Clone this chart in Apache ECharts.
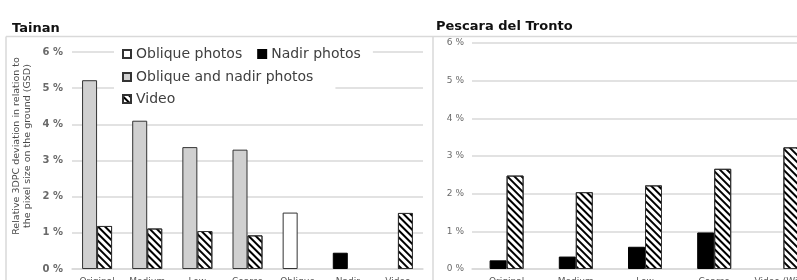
<!DOCTYPE html>
<html>
<head>
<meta charset="utf-8">
<script src="https://cdn.jsdelivr.net/npm/echarts@6/dist/echarts.min.js"></script>
<style>
html,body{margin:0;padding:0;background:#fff;}
#chart{width:797px;height:280px;}
</style>
</head>
<body>
<div id="chart"></div>
<script>
// ---- data ----
var tainanCats = ['Original', 'Medium', 'Low', 'Coarse', 'Oblique', 'Nadir', 'Video'];
var tainanOblique = [null, null, null, null, 1.56, null, null];
var tainanNadir = [null, null, null, null, null, 0.45, null];
var tainanObliqueNadir = [5.22, 4.10, 3.37, 3.30, null, null, null];
var tainanVideo = [1.19, 1.12, 1.05, 0.93, null, null, 1.55];

var pescaraCats = ['Original', 'Medium', 'Low', 'Coarse', 'Video (Wide)'];
var pescaraNadir = [0.23, 0.33, 0.59, 0.97, null];
var pescaraVideo = [2.48, 2.04, 2.22, 2.66, 3.23];

var yTicks = [0, 1, 2, 3, 4, 5, 6];
var seriesNames = ['Oblique photos', 'Nadir photos', 'Oblique and nadir photos', 'Video'];
var yAxisTitle = 'Relative 3DPC deviation in relation to\nthe pixel size on the ground (GSD)';

// ---- styles ----
var FONT = 'DejaVu Sans';
var GRID = '#d9d9d9';
var stripe = {
  symbol: 'rect', symbolSize: 1,
  dashArrayX: [1, 0], dashArrayY: [2, 3],
  rotation: Math.PI / 4, color: '#000'
};
var border = '#333';

function yAxisCfg(grid, leftStyle) {
  return {
    gridIndex: grid, type: 'value', min: yTicks[0], max: yTicks[yTicks.length - 1], interval: 1,
    axisLine: {show: false}, axisTick: {show: false},
    splitLine: {lineStyle: {color: GRID, width: 1.5}},
    axisLabel: leftStyle
  };
}
function xAxisCfg(grid, cats, margin) {
  return {
    gridIndex: grid, type: 'category', data: cats,
    axisLine: {lineStyle: {color: GRID, width: 1.5}},
    axisTick: {show: false},
    axisLabel: {margin: margin, fontFamily: FONT, fontSize: 9, color: '#595959', interval: 0}
  };
}
var legendText = {fontFamily: FONT, fontSize: 14, color: '#404040'};

var option = {
  animation: false,
  backgroundColor: '#fff',
  title: [
    {text: 'Tainan', left: 12, top: 22, padding: 0,
     textStyle: {fontFamily: FONT, fontSize: 13, fontWeight: 'bold', color: '#111'}},
    {text: 'Pescara del Tronto', left: 436, top: 20, padding: 0,
     textStyle: {fontFamily: FONT, fontSize: 13, fontWeight: 'bold', color: '#111'}}
  ],
  legend: [
    {data: [seriesNames[0], seriesNames[1]], left: 114, top: 45, itemGap: 15, icon: 'rect',
     itemWidth: 8, itemHeight: 8, padding: [2, 12, 2, 8], backgroundColor: '#fff',
     selectedMode: false, textStyle: legendText},
    {data: [seriesNames[2]], left: 114, top: 68, itemWidth: 8, itemHeight: 8, icon: 'rect',
     padding: [2, 22, 6, 8], backgroundColor: '#fff', selectedMode: false, textStyle: legendText},
    {data: [seriesNames[3]], left: 114, top: 90, itemWidth: 8, itemHeight: 8, icon: 'rect',
     padding: [2, 10, 2, 8], backgroundColor: '#fff', selectedMode: false, textStyle: legendText}
  ],
  grid: [
    {left: 72, right: 374, top: 52, bottom: 11, outerBoundsMode: 'none', containLabel: false},
    {left: 472, right: -21, top: 43, bottom: 11, outerBoundsMode: 'none', containLabel: false}
  ],
  xAxis: [xAxisCfg(0, tainanCats, 8), xAxisCfg(1, pescaraCats, 8)],
  yAxis: [
    yAxisCfg(0, {formatter: '{value} %', margin: 9, fontFamily: FONT, fontSize: 10, fontWeight: 'bold', color: '#6a6a6a'}),
    yAxisCfg(1, {formatter: '{value} %', margin: 8, fontFamily: FONT, fontSize: 9, color: '#6a6a6a'})
  ],
  graphic: [
    {type: 'line', shape: {x1: 6, y1: 36.5, x2: 797, y2: 36.5}, style: {stroke: GRID, lineWidth: 1.5}},
    {type: 'line', shape: {x1: 6, y1: 36.5, x2: 6, y2: 280}, style: {stroke: GRID, lineWidth: 1.5}},
    {type: 'line', shape: {x1: 433, y1: 36.5, x2: 433, y2: 280}, style: {stroke: GRID, lineWidth: 1.5}},
    {type: 'text', x: 22, y: 146, rotation: Math.PI / 2,
     style: {text: yAxisTitle, fontFamily: FONT, fontSize: 9.5, lineHeight: 11, fill: '#4a4a4a',
             textAlign: 'center', textVerticalAlign: 'middle'}}
  ],
  series: [
    {name: seriesNames[0], type: 'bar', xAxisIndex: 0, yAxisIndex: 0, stack: 'p', data: tainanOblique,
     barWidth: 15, barGap: '0%', itemStyle: {color: '#fff', borderColor: border, borderWidth: 1}},
    {name: seriesNames[1], type: 'bar', xAxisIndex: 0, yAxisIndex: 0, stack: 'p', data: tainanNadir,
     barWidth: 15, barGap: '0%', itemStyle: {color: '#000', borderColor: '#000', borderWidth: 1}},
    {name: seriesNames[2], type: 'bar', xAxisIndex: 0, yAxisIndex: 0, stack: 'p', data: tainanObliqueNadir,
     barWidth: 15, barGap: '0%', itemStyle: {color: '#d0d0d0', borderColor: border, borderWidth: 1}},
    {name: seriesNames[3], type: 'bar', xAxisIndex: 0, yAxisIndex: 0, data: tainanVideo,
     barWidth: 15, barGap: '0%', itemStyle: {color: '#fff', borderColor: border, borderWidth: 1, decal: stripe}},
    {name: seriesNames[1], type: 'bar', xAxisIndex: 1, yAxisIndex: 1, stack: 'q', data: pescaraNadir,
     barWidth: 17, barGap: '0%', itemStyle: {color: '#000', borderColor: '#000', borderWidth: 1}},
    {name: seriesNames[3], type: 'bar', xAxisIndex: 1, yAxisIndex: 1, data: pescaraVideo,
     barWidth: 17, barGap: '0%', itemStyle: {color: '#fff', borderColor: border, borderWidth: 1, decal: stripe}}
  ]
};
var chart = echarts.init(document.getElementById('chart'), null, {renderer: 'canvas'});
chart.setOption(option);
</script>
</body>
</html>
